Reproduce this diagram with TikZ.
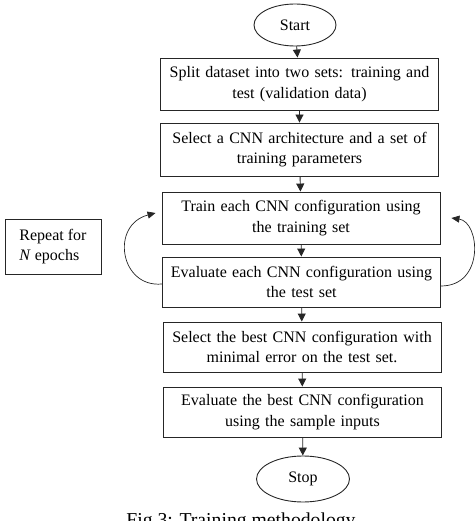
\documentclass[tikz,border=0pt]{standalone}
\usepackage{fontspec}
\setmainfont{Liberation Serif}
\usetikzlibrary{shapes.geometric,arrows.meta}
\begin{document}
\begin{tikzpicture}[x=1pt,y=1pt,
  every node/.style={font=\fontsize{16}{20.5}\selectfont},
  procbox/.style={draw=black!85,line width=0.9pt,rectangle,minimum height=51pt,text width=278pt,align=center,inner sep=0pt},
  term/.style={draw=black!85,line width=0.9pt,ellipse,inner sep=0pt},
  arr/.style={draw=black!85,line width=0.9pt,-{Triangle[length=8pt,width=8pt]}},
  loop/.style={draw=black!85,line width=0.7pt,-{Triangle[length=8pt,width=7pt]}}
]
\useasboundingbox (0,0) rectangle (475,-521);
\node[term,minimum width=82pt,minimum height=42pt] (start) at (295,-25) {Start};
\node[procbox,minimum height=52pt] (b1) at (299.5,-84) {Split dataset into two sets: training and\\test (validation data)};
\node[procbox,minimum height=53pt] (b2) at (299.5,-149.5) {Select a CNN architecture and a set of\\training parameters};
\node[procbox,minimum height=52pt] (b3) at (301,-218) {Train each CNN configuration using\\the training set};
\node[procbox,minimum height=50pt] (b4) at (301.5,-282) {Evaluate each CNN configuration using\\the test set};
\node[procbox,minimum height=50pt] (b5) at (302,-347) {Select the best CNN configuration with\\minimal error on the test set.};
\node[procbox,minimum height=50pt] (b6) at (302.5,-412) {Evaluate the best CNN configuration\\using the sample inputs};
\node[term,minimum width=93pt,minimum height=46pt] (stop) at (303,-479) {Stop};
\node[draw=black!85,line width=0.9pt,minimum width=96pt,minimum height=55pt,align=left,inner sep=0pt] (rep) at (53,-246.5) {Repeat for\\\textit{N} epochs};
\node[anchor=base,font=\fontsize{19.7}{22}\selectfont] (cap) at (241,-526) {Fig 3: Training methodology};
\draw[arr] (start) -- (b1);
\draw[arr] (b1) -- (b2);
\draw[arr] (b2) -- (b3);
\draw[arr] (b3) -- (b4);
\draw[arr] (b4) -- (b5);
\draw[arr] (b5) -- (b6);
\draw[arr] (b6) -- (stop);
\coordinate (lt) at ([xshift=-6pt,yshift=5pt]b3.west);
\coordinate (rt) at ([xshift=11pt,yshift=0pt]b3.east);
\draw[loop] ([yshift=-2pt]b4.west) .. controls (120,-288) and (110,-225) .. (lt);
\draw[loop] ([yshift=-4pt]b4.east) .. controls (485,-286) and (480,-222) .. (rt);
\end{tikzpicture}
\end{document}
